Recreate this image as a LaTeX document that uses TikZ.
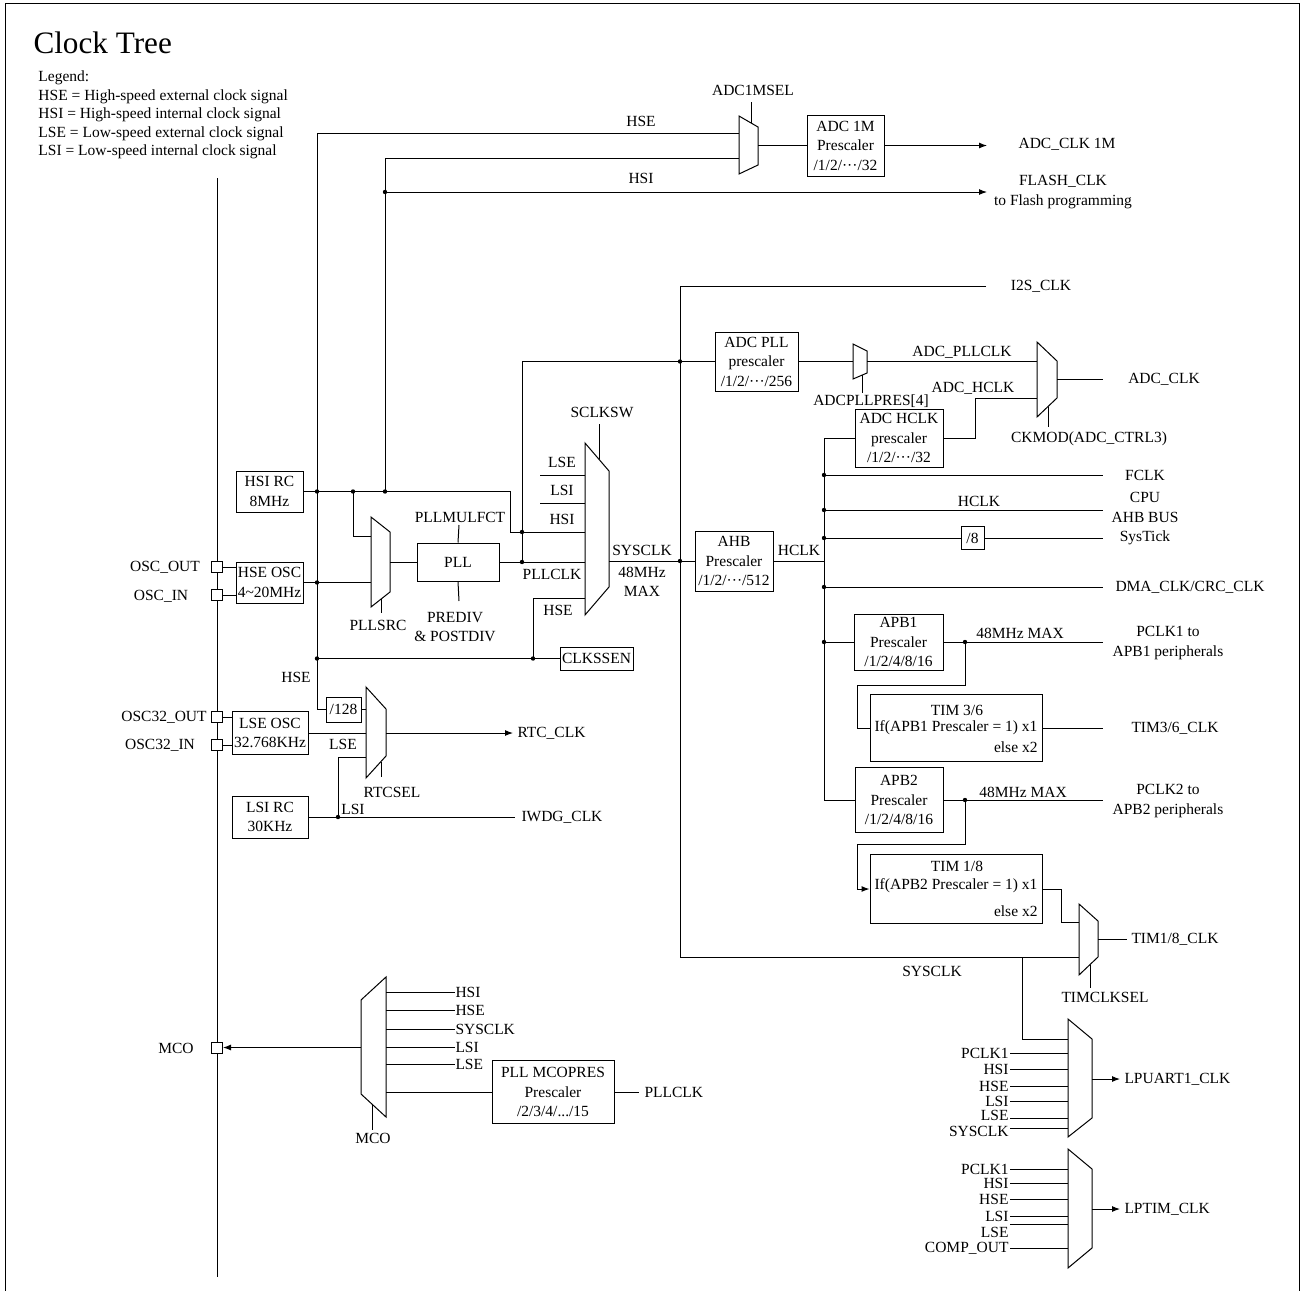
\documentclass[tikz,border=0pt]{standalone}
\usepackage{fontspec}
\setmainfont{Liberation Serif}
\usetikzlibrary{positioning,arrows.meta}

\newcommand{\dotsmid}{\textperiodcentered\textperiodcentered\textperiodcentered}

\tikzset{
    txt/.style={inner sep=0pt, font=\fontsize{7.75}{9.75}\selectfont, align=center},
    blk/.style={draw, fill=white, txt},
    dot/.style={circle, fill, inner sep=0pt, minimum size=2.2pt},
    pin/.style={draw, fill=white, inner sep=0pt, minimum size=5.5pt},
    sig/.style={-{Latex[length=4pt,width=3pt]}},
}

\begin{document}
\begin{tikzpicture}[x=0.5pt, y=-0.5pt, line width=0.5pt]

        \useasboundingbox (0,0) rectangle (1303,1291);

        % frame, title, legend
        \path[draw] (5,1291) -- (5,3) -- (1299,3) -- (1299,1291);
        \node[anchor=base west, inner sep=0pt, font=\fontsize{15.6}{18}\selectfont] (title) at (33,53) {Clock Tree};
        \node[txt, anchor=base west] (leg0) at (38,81) {Legend:};
        \node[txt, anchor=base west] (leg1) at (38,100) {HSE = High-speed external clock signal};
        \node[txt, anchor=base west] (leg2) at (38,118) {HSI = High-speed internal clock signal};
        \node[txt, anchor=base west] (leg3) at (38,137) {LSE = Low-speed external clock signal};
        \node[txt, anchor=base west] (leg4) at (38,155) {LSI = Low-speed internal clock signal};

        % pin bus
        \coordinate (busTop) at (217,178);
        \coordinate (busBot) at (217,1277);
        \path[draw] (busTop) -- (busBot);

        \node[pin] (oscout) at (217,567) {};
        \node[pin] (oscin) at (217,595) {};
        \node[pin] (osclout) at (217,717) {};
        \node[pin] (osclin) at (217,745) {};
        \node[pin] (mcopin) at (217,1047.5) {};
        \node[txt] at (165,567) {OSC\_OUT};
        \node[txt] at (161,596) {OSC\_IN};
        \node[txt] at (164,717) {OSC32\_OUT};
        \node[txt] at (160,745) {OSC32\_IN};
        \node[txt] at (176,1048) {MCO};

        % boxes
        \node[blk, minimum width=33.5pt, minimum height=20.5pt] (hsirc) at (269.5,491.5) {HSI RC\\8MHz};
        \node[blk, minimum width=33.5pt, minimum height=20.5pt] (hseosc) at (269.5,582.5) {HSE OSC\\4\textasciitilde 20MHz};
        \node[blk, minimum width=38pt, minimum height=21.5pt] (lseosc) at (270,733) {LSE OSC\\32.768KHz};
        \node[blk, minimum width=38pt, minimum height=21pt] (lsirc) at (270,817) {LSI RC\\30KHz};
        \node[blk, minimum width=17.5pt, minimum height=12.5pt] (divR) at (343.5,709.5) {/128};
        \node[blk, minimum width=41pt, minimum height=19pt] (pll) at (458,562) {PLL};
        \node[blk, minimum width=36.5pt, minimum height=11.5pt] (clkssen) at (596.5,658.5) {CLKSSEN};
        \node[blk, minimum width=38.5pt, minimum height=30.5pt] (adcm) at (845.5,145.5) {ADC 1M\\Prescaler\\/1/2/\dotsmid/32};
        \node[blk, minimum width=41.5pt, minimum height=29.5pt] (adcpll) at (756.5,361.5) {ADC PLL\\prescaler\\/1/2/\dotsmid/256};
        \node[blk, minimum width=44pt, minimum height=29pt] (adchclk) at (899,438) {ADC HCLK\\prescaler\\/1/2/\dotsmid/32};
        \node[blk, minimum width=39pt, minimum height=30pt] (ahb) at (734,561) {AHB\\Prescaler\\/1/2/\dotsmid/512};
        \node[blk, minimum width=11.5pt, minimum height=11.5pt] (divE) at (972.5,538) {/8};
        \node[blk, minimum width=44.5pt, minimum height=28pt] (apbA) at (898.5,642) {APB1\\Prescaler\\/1/2/4/8/16};
        \node[blk, minimum width=86pt, minimum height=33.5pt] (timA) at (956,728) {};
        \node[blk, minimum width=44pt, minimum height=32.5pt] (apbB) at (899,800) {APB2\\Prescaler\\/1/2/4/8/16};
        \node[blk, minimum width=86pt, minimum height=34.5pt] (timB) at (956,889) {};
        \node[blk, minimum width=61pt, minimum height=31.5pt] (mcopres) at (553,1092) {PLL MCOPRES\\Prescaler\\/2/3/4/.../15};

        \node[txt] at (957,710) {TIM 3/6};
        \node[txt] at (956,728) {If(APB1 Prescaler = 1) x1};
        \node[txt, anchor=east] at (1038,747) {else x2};
        \node[txt] at (957,866) {TIM 1/8};
        \node[txt] at (956,886) {If(APB2 Prescaler = 1) x1};
        \node[txt, anchor=east] at (1038,911) {else x2};

        % multiplexers
        \coordinate (msA) at (739,116); \coordinate (msB) at (758,127); \coordinate (msC) at (758,165); \coordinate (msD) at (739,174);
        \coordinate (srA) at (371,517); \coordinate (srB) at (390,532); \coordinate (srC) at (390,592); \coordinate (srD) at (371,607);
        \coordinate (swA) at (585,443); \coordinate (swB) at (609,471); \coordinate (swC) at (609,587); \coordinate (swD) at (585,615);
        \coordinate (apA) at (853,344); \coordinate (apB) at (867,351); \coordinate (apC) at (867,373); \coordinate (apD) at (853,379);
        \coordinate (ckA) at (1037,342); \coordinate (ckB) at (1057,361); \coordinate (ckC) at (1057,398); \coordinate (ckD) at (1037,417);
        \coordinate (rtA) at (366,687); \coordinate (rtB) at (386,709); \coordinate (rtC) at (386,756); \coordinate (rtD) at (366,778);
        \coordinate (tcA) at (1079,904); \coordinate (tcB) at (1098,921); \coordinate (tcC) at (1098,957); \coordinate (tcD) at (1079,975);
        \coordinate (luA) at (1068,1019); \coordinate (luB) at (1092,1039); \coordinate (luC) at (1092,1118); \coordinate (luD) at (1068,1137);
        \coordinate (ltA) at (1068,1149); \coordinate (ltB) at (1092,1169); \coordinate (ltC) at (1092,1248); \coordinate (ltD) at (1068,1268);
        \coordinate (mcA) at (386,977); \coordinate (mcB) at (361,1000); \coordinate (mcC) at (361,1094); \coordinate (mcD) at (386,1117);

        \foreach \m in {ms,sr,sw,ap,ck,rt,tc,lu,lt,mc}
            \path[draw] (\m A) -- (\m B) -- (\m C) -- (\m D) -- cycle;

        % select lines
        \path[draw] (751,102) -- (751,123);
        \path[draw] (459,525) -- (pll.north);
        \path[draw] (pll.south) -- (459,601);
        \path[draw] (381,599) -- (381,613);
        \path[draw] (599,424) -- (599,459);
        \path[draw] (862,375) -- (862,393);
        \path[draw] (1048,407) -- (1048,427);
        \path[draw] (381,762) -- (381,777);
        \path[draw] (1090,965) -- (1090,988);
        \path[draw] (372,1104) -- (372,1130);

        \node[txt] at (753,90) {ADC1MSEL};
        \node[txt] at (460,517) {PLLMULFCT};
        \node[txt] at (455,627) {PREDIV\\\& POSTDIV};
        \node[txt] at (378,625) {PLLSRC};
        \node[txt] at (602,412) {SCLKSW};
        \node[txt] at (871,401) {ADCPLLPRES[4]};
        \node[txt] at (1089,439) {CKMOD(ADC\_CTRL3)};
        \node[txt] at (392,792) {RTCSEL};
        \node[txt] at (1105,997) {TIMCLKSEL};
        \node[txt] at (373,1138) {MCO};

        % oscillators to pins
        \path[draw] (oscout.east) -- (oscout.east -| hseosc.west);
        \path[draw] (oscin.east) -- (oscin.east -| hseosc.west);
        \path[draw] (osclout.east) -- (osclout.east -| lseosc.west);
        \path[draw] (osclin.east) -- (osclin.east -| lseosc.west);

        % HSE and HSI distribution
        \coordinate (hseTop) at (317,133);
        \coordinate (hsiTop) at (385,158);
        \coordinate (hsiJ) at (385,491.5);
        \coordinate (flash) at (987,192);
        \path[draw] (divR.west) -| (hseTop) -- (hseTop -| msA);
        \path[draw] (hsiJ) -- (hsiTop) -- (hsiTop -| msA);
        \path[draw, sig] (385,192) -- (flash);
        \path[draw] (hsirc.east) -- (510,491.5) -- (510,532) -- (swA |- 0,532);
        \path[draw] (353,491.5) -- (353,536) -- (srA |- 0,536);
        \path[draw] (hseosc.east) -- (hseosc.east -| srA);
        \path[draw] (317,658.5) -- (clkssen.west);
        \path[draw] (533,658.5) -- (533,598) -- (swA |- 0,598);
        \foreach \p in {(385,192),(317,491.5),(353,491.5),(385,491.5),(317,582.5),(317,658.5),(533,658.5)}
            \node[dot] at \p {};
        \node[txt] at (641,121) {HSE};
        \node[txt] at (641,178) {HSI};
        \node[txt] at (296,677) {HSE};

        % ADC 1M
        \path[draw] (adcm.west -| msB) -- (adcm.west);
        \path[draw, sig] (adcm.east) -- (987,145.5);
        \node[txt] at (1067,144) {ADC\_CLK 1M};
        \node[txt] at (1063,192) {FLASH\_CLK\\to Flash programming};

        % PLL and system clock switch
        \path[draw] (srB |- pll.west) -- (pll.west);
        \path[draw] (pll.east) -- (pll.east -| swA);
        \path[draw] (522,562) -- (522,361.5) -- (adcpll.west);
        \path[draw] (540,475) -- (swA |- 0,475);
        \path[draw] (540,503) -- (swA |- 0,503);
        \node[dot] at (522,532) {};
        \node[dot] at (522,562) {};
        \node[txt] at (562,462) {LSE};
        \node[txt] at (562,490) {LSI};
        \node[txt] at (562,519) {HSI};
        \node[txt] at (552,574) {PLLCLK};
        \node[txt] at (558,610) {HSE};

        \path[draw] (swB |- ahb.west) -- (ahb.west);
        \node[txt] at (642,550) {SYSCLK};
        \node[txt] at (642,582) {48MHz\\MAX};
        \path[draw] (986,286) -- (680,286) -- (680,957) -- (tcA |- 0,957);
        \node[dot] at (680,361.5) {};
        \node[dot] at (680,561) {};
        \node[txt] at (1041,286) {I2S\_CLK};
        \node[txt] at (932,971) {SYSCLK};

        % ADC clock
        \path[draw] (adcpll.east) -- (adcpll.east -| apA);
        \path[draw] (apB |- 0,361.5) -- (ckA |- 0,361.5);
        \path[draw] (adchclk.east) -- (975,438) -- (975,398) -- (ckA |- 0,398);
        \path[draw] (ckB |- 0,379) -- (1103,379);
        \node[txt] at (962,352) {ADC\_PLLCLK};
        \node[txt] at (973,388) {ADC\_HCLK};
        \node[txt] at (1164,379) {ADC\_CLK};

        % HCLK bus
        \path[draw] (adchclk.west) -- (824,438) -- (824,800) -- (apbB.west);
        \path[draw] (ahb.east) -- (824,561);
        \path[draw] (824,475) -- (1103,475);
        \path[draw] (824,510) -- (1103,510);
        \path[draw] (824,538) -- (divE.west);
        \path[draw] (divE.east) -- (1103,538);
        \path[draw] (824,587) -- (1103,587);
        \path[draw] (824,642) -- (apbA.west);
        \foreach \y in {475,510,538,587,642}
            \node[dot] at (824,\y) {};
        \node[txt] at (799,550) {HCLK};
        \node[txt] at (1145,475) {FCLK};
        \node[txt] at (979,501) {HCLK};
        \node[txt] at (1145,519) {CPU\\AHB BUS\\SysTick};
        \node[txt] at (1190,587) {DMA\_CLK/CRC\_CLK};

        % APB1 / APB2 and timers
        \path[draw] (apbA.east) -- (1103,642);
        \path[draw] (965,642) -- (965,685) -- (857,685) -- (857,728) -- (timA.west);
        \path[draw] (timA.east) -- (1103,728);
        \path[draw] (apbB.east) -- (1103,800);
        \path[draw, sig] (965,800) -- (965,844) -- (857,844) -- (857,889) -- (timB.west);
        \path[draw] (timB.east) -- (1061,889) -- (1061,922) -- (tcA |- 0,922);
        \path[draw] (tcB |- 0,939) -- (1127,939);
        \node[dot] at (965,642) {};
        \node[dot] at (965,800) {};
        \node[txt] at (1020,633) {48MHz MAX};
        \node[txt] at (1168,643) {PCLK1 to\\APB1 peripherals};
        \node[txt] at (1175,728) {TIM3/6\_CLK};
        \node[txt] at (1023,792) {48MHz MAX};
        \node[txt] at (1168,801) {PCLK2 to\\APB2 peripherals};
        \node[txt] at (1175,939) {TIM1/8\_CLK};

        % RTC and IWDG
        \path[draw] (divR.east) -- (divR.east -| rtA);
        \path[draw] (lseosc.east) -- (lseosc.east -| rtA);
        \path[draw, sig] (rtB |- 0,733) -- (513,733);
        \path[draw] (lsirc.east) -- (515,817);
        \path[draw] (338,817) -- (338,757) -- (rtA |- 0,757);
        \node[dot] at (338,817) {};
        \node[txt] at (343,744) {LSE};
        \node[txt] at (353,809) {LSI};
        \node[txt, anchor=west] at (517,733) {RTC\_CLK};
        \node[txt, anchor=west] at (521,817) {IWDG\_CLK};

        % LPUART1 and LPTIM
        \path[draw] (1022,957) -- (1022,1039) -- (luA |- 0,1039);
        \foreach \y/\t in {1053/PCLK1,1069/HSI,1086/HSE,1101/LSI,1118/LSE,1128/SYSCLK}
            \path[draw] (1010,\y) -- (luA |- 0,\y);
        \foreach \y/\t in {1053/PCLK1,1069/HSI,1086/HSE,1101/LSI,1115/LSE,1131/SYSCLK}
            \node[txt, anchor=east] at (1009,\y) {\t};
        \path[draw, sig] (luB |- 0,1079) -- (1120,1079);
        \node[txt, anchor=west] at (1124,1079) {LPUART1\_CLK};
        \foreach \y/\t in {1169/PCLK1,1183/HSI,1199/HSE,1216/LSI,1248/COMP\_OUT} {
            \path[draw] (1010,\y) -- (ltA |- 0,\y);
            \node[txt, anchor=east] at (1009,\y) {\t};
        }
        \path[draw] (1010,1224) -- (ltA |- 0,1224);
        \node[txt, anchor=east] at (1009,1232) {LSE};
        \path[draw, sig] (ltB |- 0,1209) -- (1120,1209);
        \node[txt, anchor=west] at (1124,1209) {LPTIM\_CLK};

        % MCO
        \path[draw, sig] (mcB |- 0,1047.5) -- (mcopin.east);
        \foreach \y/\t in {992/HSI,1010/HSE,1029/SYSCLK,1047/LSI,1064/LSE} {
            \path[draw] (mcA |- 0,\y) -- (455,\y);
            \node[txt, anchor=west] at (455,\y) {\t};
        }
        \path[draw] (mcA |- mcopres.west) -- (mcopres.west);
        \path[draw] (mcopres.east) -- (639,1092);
        \node[txt, anchor=west] at (644,1092) {PLLCLK};

    \end{tikzpicture}
\end{document}
